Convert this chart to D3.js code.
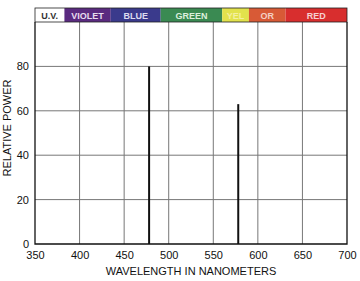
<!DOCTYPE html>
<html>
<head>
<meta charset="utf-8">
<script src="https://cdn.jsdelivr.net/npm/d3@7"></script>
<style>
  body { margin: 0; background: #fff; }
  text { font-family: "Liberation Sans", Arial, sans-serif; }
</style>
</head>
<body>
<div class="chart"></div>
<script>
// spectral lines
var wavelengths = [478, 578];
var power = [80, 63];

// colour band across the top
var bandNames = ["U.V.", "VIOLET", "BLUE", "GREEN", "YEL", "OR", "RED"];
var bandStart = [350, 383, 435, 491, 560, 590, 631];
var bandEnd = [383, 435, 491, 560, 590, 631, 700];
var bandColors = ["#ffffff", "#5a2a80", "#3a3a8c", "#3a8a52", "#e2e24c", "#d85a36", "#d82e2e"];
var bandText = ["#333", "#e8dcef", "#dcdcf0", "#dcefdc", "#f4f0a0", "#f4d0c4", "#f6d0d0"];

var xTicks = [350, 400, 450, 500, 550, 600, 650, 700];
var yTicks = [0, 20, 40, 60, 80];

var svgWidth = 360;
var svgHeight = 281;
var margin = { top: 22, right: 13, bottom: 37, left: 35 };
var width = svgWidth - margin.left - margin.right;
var height = svgHeight - margin.top - margin.bottom;

var svg = d3.select(".chart")
  .append("svg")
  .attr("width", svgWidth)
  .attr("height", svgHeight);

var chart = svg.append("g")
  .attr("transform", "translate(" + margin.left + "," + margin.top + ")");

var x = d3.scaleLinear().domain([350, 700]).range([0, width]);
var y = d3.scaleLinear().domain([0, 100]).range([height, 0]);

// grid
chart.selectAll(".vgrid")
  .data(xTicks.slice(1, -1))
  .enter().append("line")
  .attr("x1", function(d) { return x(d); })
  .attr("x2", function(d) { return x(d); })
  .attr("y1", 0)
  .attr("y2", height)
  .attr("stroke", "#777")
  .attr("stroke-width", 1);

chart.selectAll(".hgrid")
  .data(yTicks.slice(1))
  .enter().append("line")
  .attr("x1", 0)
  .attr("x2", width)
  .attr("y1", function(d) { return y(d); })
  .attr("y2", function(d) { return y(d); })
  .attr("stroke", "#777")
  .attr("stroke-width", 1);

// band
var bandH = 14;
var bands = chart.selectAll(".band")
  .data(bandNames)
  .enter().append("g");

bands.append("rect")
  .attr("x", function(d, i) { return x(bandStart[i]); })
  .attr("y", -bandH)
  .attr("width", function(d, i) { return x(bandEnd[i]) - x(bandStart[i]); })
  .attr("height", bandH)
  .attr("fill", function(d, i) { return bandColors[i]; });

bands.append("text")
  .attr("x", function(d, i) { return (x(bandStart[i]) + x(bandEnd[i])) / 2; })
  .attr("y", -bandH / 2 + 3.5)
  .attr("text-anchor", "middle")
  .attr("font-size", 9)
  .attr("font-weight", "bold")
  .attr("fill", function(d, i) { return bandText[i]; })
  .text(function(d) { return d; });

chart.append("rect")
  .attr("x", 0)
  .attr("y", -bandH)
  .attr("width", width)
  .attr("height", bandH)
  .attr("fill", "none")
  .attr("stroke", "#222")
  .attr("stroke-width", 0.8);

// spectral lines
chart.selectAll(".spike")
  .data(wavelengths)
  .enter().append("line")
  .attr("x1", function(d) { return x(d); })
  .attr("x2", function(d) { return x(d); })
  .attr("y1", y(0))
  .attr("y2", function(d, i) { return y(power[i]); })
  .attr("stroke", "#111")
  .attr("stroke-width", 2);

// frame
chart.append("path")
  .attr("d", "M0,0V" + height + "H" + width + "V0")
  .attr("fill", "none")
  .attr("stroke", "#111")
  .attr("stroke-width", 1.3);

// axes
var xAxis = d3.axisBottom(x).tickValues(xTicks).tickSize(0).tickPadding(7);
chart.append("g")
  .attr("transform", "translate(0," + height + ")")
  .call(xAxis)
  .call(function(g) { g.select(".domain").remove(); })
  .selectAll("text")
  .attr("font-size", 11)
  .attr("fill", "#111");

var yAxis = d3.axisLeft(y).tickValues(yTicks).tickSize(0).tickPadding(6);
chart.append("g")
  .call(yAxis)
  .call(function(g) { g.select(".domain").remove(); })
  .selectAll("text")
  .attr("font-size", 11)
  .attr("fill", "#111");

chart.append("text")
  .attr("x", width / 2)
  .attr("y", height + 31)
  .attr("text-anchor", "middle")
  .attr("font-size", 11)
  .attr("fill", "#111")
  .text("WAVELENGTH IN NANOMETERS");

chart.append("text")
  .attr("transform", "rotate(-90)")
  .attr("x", -(y(50) - 5))
  .attr("y", -24)
  .attr("text-anchor", "middle")
  .attr("font-size", 11)
  .attr("fill", "#111")
  .text("RELATIVE POWER");
</script>
</body>
</html>
